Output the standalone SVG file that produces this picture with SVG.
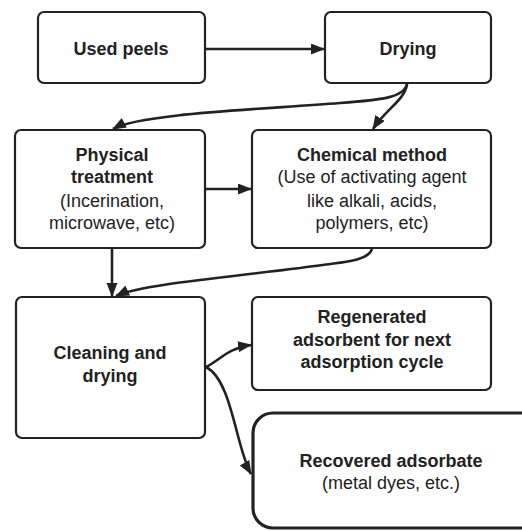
<svg xmlns="http://www.w3.org/2000/svg" width="522" height="531" viewBox="0 0 522 531">
<style>
.box{fill:#fff;stroke:#222;stroke-width:2.2}
.big{fill:#fff;stroke:#222;stroke-width:3.2}
.b{font-family:"Liberation Sans",Arial,sans-serif;font-weight:bold;font-size:18px;fill:#222;text-anchor:middle}
.r{font-family:"Liberation Sans",Arial,sans-serif;font-size:18px;fill:#222;text-anchor:middle}
.c{fill:none;stroke:#222;stroke-width:2.6}
</style>
<defs>
<marker id="ah" markerUnits="userSpaceOnUse" markerWidth="14" markerHeight="12" refX="13" refY="5.5" orient="auto">
<path d="M0,0 L14,5.5 L0,11 z" fill="#222"/>
</marker>
</defs>
<rect width="522" height="531" fill="#fff"/>
<g id="used-peels"><rect class="box" x="38" y="12" width="167" height="71" rx="6"/><text class="b" x="121" y="55">Used peels</text></g>
<g id="drying"><rect class="box" x="325" y="12" width="166" height="71" rx="6"/><text class="b" x="408" y="55">Drying</text></g>
<g id="physical"><rect class="box" x="15" y="130" width="190" height="118" rx="6"/>
<text class="b" x="112" y="161">Physical</text><text class="b" x="112" y="183">treatment</text>
<text class="r" x="112" y="207">(Incerination,</text><text class="r" x="112" y="229">microwave, etc)</text></g>
<g id="chemical"><rect class="box" x="252" y="130" width="239" height="118" rx="6"/>
<text class="b" x="372" y="161">Chemical method</text><text class="r" x="372" y="183">(Use of activating agent</text>
<text class="r" x="372" y="207">like alkali, acids,</text><text class="r" x="372" y="229">polymers, etc)</text></g>
<g id="cleaning"><rect class="box" x="16" y="297" width="189" height="141" rx="6"/>
<text class="b" x="110" y="359">Cleaning and</text><text class="b" x="110" y="382">drying</text></g>
<g id="regenerated"><rect class="box" x="252" y="297" width="239" height="93" rx="6"/>
<text class="b" x="372" y="323">Regenerated</text><text class="b" x="372" y="346">adsorbent for next</text><text class="b" x="372" y="368">adsorption cycle</text></g>
<g id="recovered"><rect class="big" x="253" y="413" width="290" height="115" rx="20"/>
<text class="b" x="391" y="467">Recovered adsorbate</text><text class="r" x="391" y="489">(metal dyes, etc.)</text></g>
<g id="connectors">
<path class="c" d="M206,49 L324,49" marker-end="url(#ah)"/>
<path class="c" d="M407,84 C404,98 380,100 340,103 C250,110 140,114 113,129" marker-end="url(#ah)"/>
<path class="c" d="M407,84 C405,100 385,110 373,129" marker-end="url(#ah)"/>
<path class="c" d="M206,189 L251,189" marker-end="url(#ah)"/>
<path class="c" d="M112,249 L112,296" marker-end="url(#ah)"/>
<path class="c" d="M372,249 C368,262 340,262 300,268 C220,278 140,285 116,296" marker-end="url(#ah)"/>
<path class="c" d="M206,367 C220,360 228,348 251,345" marker-end="url(#ah)"/>
<path class="c" d="M206,367 C232,380 236,448 251,474" marker-end="url(#ah)"/>
</g>
</svg>
